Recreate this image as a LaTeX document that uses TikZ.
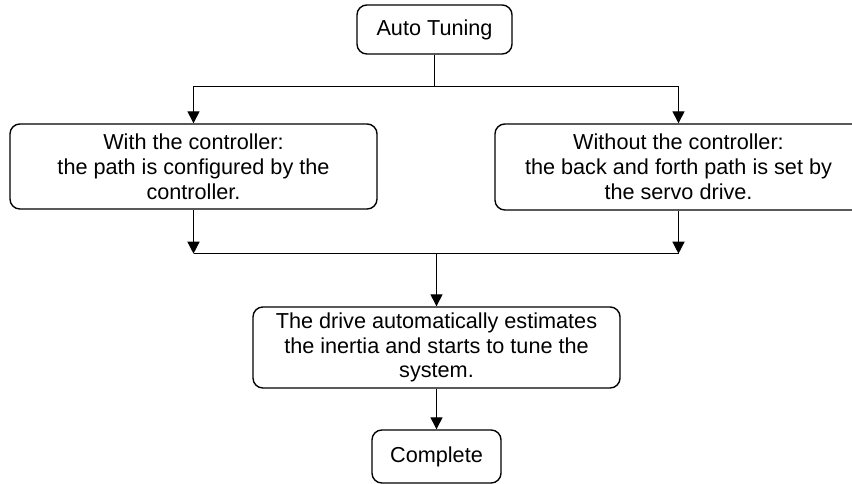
\documentclass[tikz,border=0pt]{standalone}
\usepackage{fontspec}
\setmainfont{Liberation Sans}
\usetikzlibrary{arrows.meta, positioning, calc}
\tikzset{
  every picture/.style={font=\fontsize{15.4}{17.7}\selectfont, line width=1pt},
  box/.style={draw=black, fill=white, rounded corners=7pt, align=center, inner sep=0pt},
  arrow/.style={-{Triangle[length=3mm, width=3mm]}, draw=black, line width=1pt},
}

\begin{document}
\begin{tikzpicture}
  \useasboundingbox (0,0) rectangle (21.3,12.1);
  \node[box, minimum width=3.875cm, minimum height=1.225cm] (tune) at (10.8625,11.3625) {Auto Tuning};
  \node[box, minimum width=9.175cm, minimum height=2.125cm] (withctl) at (4.8375,7.9375)
    {With the controller:\\the path is configured by the\\controller.};
  \node[box, minimum width=9.175cm, minimum height=2.15cm] (noctl) at (16.9625,7.925)
    {Without the controller:\\the back and forth path is set by\\the servo drive.};
  \node[box, minimum width=9.175cm, minimum height=2.025cm] (drive) at (10.9125,3.4125)
    {The drive automatically estimates\\the inertia and starts to tune the\\system.};
  \node[box, minimum width=3.225cm, minimum height=1.325cm] (done) at (10.9125,0.6875) {Complete};
  \coordinate (fork) at ([yshift=-0.8cm]tune.south);
  \coordinate (merge) at ([yshift=-1.1cm]withctl.south);
  \draw (tune.south) -- (fork);
  \draw[arrow] (fork) -| (withctl.north);
  \draw[arrow] (fork) -| (noctl.north);
  \draw[arrow] (withctl.south) -- (merge);
  \draw[arrow] (noctl.south) -- (noctl.south |- merge);
  \draw (merge) -- (noctl.south |- merge);
  \draw[arrow] (merge -| drive.north) -- (drive.north);
  \draw[arrow] (drive.south) -- (done.north);
\end{tikzpicture}
\end{document}
